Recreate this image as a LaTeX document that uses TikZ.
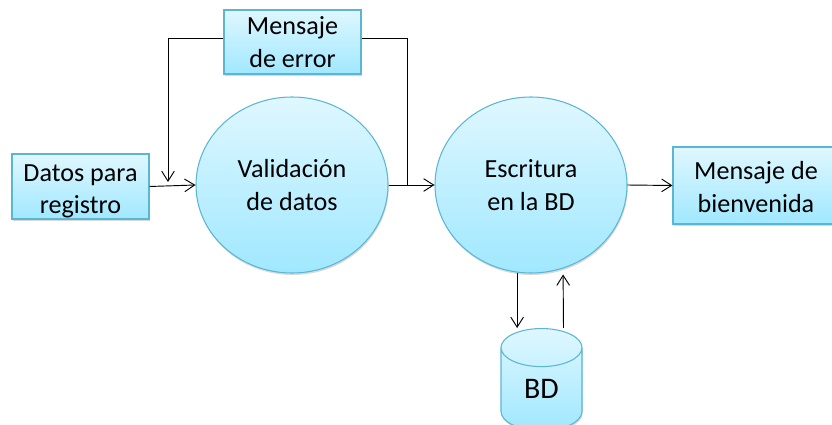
\documentclass[tikz,border=0pt]{standalone}
\usepackage{fontspec}
\setmainfont{Carlito}
\usetikzlibrary{shapes.geometric,shadows,arrows.meta}
\definecolor{bordeazul}{HTML}{5AB6D3}
\definecolor{claroazul}{HTML}{DFF7FF}
\definecolor{fuerteazul}{HTML}{A0E8FF}
\tikzset{
    relleno/.style={draw=bordeazul,line width=0.9pt,top color=claroazul,bottom color=fuerteazul,
        inner sep=0pt,align=center,font=\fontsize{22.3}{27.5}\selectfont,
        drop shadow={opacity=0.3,shadow xshift=0.02cm,shadow yshift=-0.06cm}},
    caja/.style={relleno,rectangle},
    proceso/.style={relleno,ellipse,minimum width=5.76cm,minimum height=5.28cm},
    flecha/.style={-{Straight Barb[length=3mm,width=3.8mm,line width=0.8pt]},line width=0.8pt}
}
\begin{document}
\begin{tikzpicture}[x=0.03cm,y=-0.03cm]
    \useasboundingbox (0,0) rectangle (832,425);
    % Draw the boxes
    \node[caja,minimum width=4.11cm,minimum height=1.92cm] (error) at (292.5,42) {Mensaje\\de error};
    \node[caja,minimum width=4.11cm,minimum height=1.95cm] (datos) at (80.5,186.5) {\rule{0pt}{22pt}Datos para\\registro};
    \node[caja,minimum width=4.98cm,minimum height=2.31cm] (bienvenida) at (756,185.5) {\rule{0pt}{18pt}Mensaje de\\bienvenida};
    % Draw the two processes
    \node[proceso] (validacion) at (292,185) {Validaci\'on\\de datos};
    \node[proceso] (escritura) at (531,185) {Escritura\\en la BD};
    % Draw the database
    \node[relleno,cylinder,shape border rotate=90,aspect=1.1,minimum width=2.43cm,minimum height=3.06cm,anchor=north,font=\fontsize{25.5}{27.5}\selectfont] (bd) at (541.5,328) {BD};
    % Free ends of the lines of the error box
    \coordinate (entrada) at (168,182);
    \coordinate (salida) at (407,185);
    % Draw the connectors
    \draw[flecha] (datos.east) -- (validacion.west);
    \draw[flecha] ([yshift=0.12cm]error.west) -| (entrada);
    \draw[line width=0.8pt] ([yshift=0.12cm]error.east) -| (salida);
    \draw[flecha] (validacion.east) -- (escritura.west);
    \draw[flecha] (escritura.east) -- (bienvenida.west);
    \draw[flecha] (escritura.261) -- (escritura.261 |- bd.north);
    \draw[flecha,shorten >=0.18cm] ([xshift=0.66cm]bd.north) -- (escritura.291);
\end{tikzpicture}
\end{document}
